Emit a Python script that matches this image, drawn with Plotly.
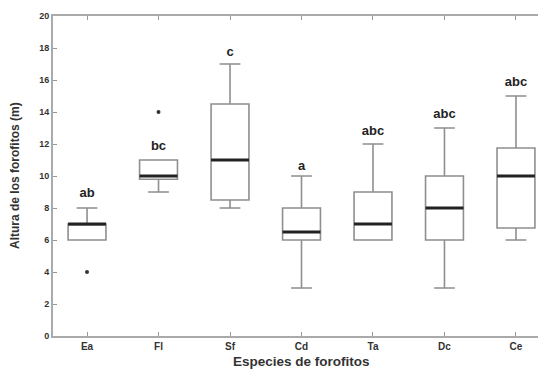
import plotly.graph_objects as go

categories = ["Ea", "Fl", "Sf", "Cd", "Ta", "Dc", "Ce"]
lower_whisker = [6, 9, 8, 3, 6, 3, 6]
q1_values = [6, 9.8, 8.5, 6, 6, 6, 6.75]
median_values = [7, 10, 11, 6.5, 7, 8, 10]
q3_values = [7, 11, 14.5, 8, 9, 10, 11.75]
upper_whisker = [8, 11, 17, 10, 12, 13, 15]
outlier_cat = [0, 1]
outlier_values = [4, 14]
letters = ["ab", "bc", "c", "a", "abc", "abc", "abc"]
letter_y = [8.9, 11.8, 17.7, 10.6, 12.75, 13.8, 15.8]
yticks = [0, 2, 4, 6, 8, 10, 12, 14, 16, 18, 20]

pos = list(range(len(categories)))
box_w = 0.53
FONT = "Liberation Sans"

fig = go.Figure()
fig.add_trace(go.Box(
    x=pos, q1=q1_values, median=median_values, q3=q3_values,
    lowerfence=lower_whisker, upperfence=upper_whisker,
    width=box_w, whiskerwidth=0.55,
    line=dict(color="#8f8f8f", width=1.6),
    fillcolor="white", boxpoints=False, showlegend=False,
    hoverinfo="skip",
))
fig.add_trace(go.Scatter(
    x=outlier_cat, y=outlier_values, mode="markers",
    marker=dict(color="#333", size=4, symbol="circle"),
    showlegend=False, hoverinfo="skip",
))
fig.add_trace(go.Scatter(
    x=pos, y=letter_y, mode="text", text=["<b>%s</b>" % t for t in letters],
    textfont=dict(family=FONT, size=13, color="#222"),
    textposition="middle center", showlegend=False, hoverinfo="skip",
))

shapes = []
for i, m in enumerate(median_values):
    shapes.append(dict(type="line", xref="x", yref="y",
                       x0=i - box_w / 2, x1=i + box_w / 2, y0=m, y1=m,
                       line=dict(color="#222", width=3)))

fig.update_layout(
    width=538, height=361,
    margin=dict(l=45, r=0, t=8, b=33),
    plot_bgcolor="white", paper_bgcolor="white",
    shapes=shapes,
    font=dict(family=FONT, color="#333"),
    xaxis=dict(
        range=[-0.476, 6.42], tickvals=pos, ticktext=["<b>%s</b>" % c for c in categories],
        ticks="inside", ticklen=4, tickcolor="#999", tickwidth=1,
        showline=True, linecolor="#aaa", linewidth=2, mirror="ticks",
        showgrid=False, zeroline=False, automargin=False,
        tickfont=dict(size=10, color="#333", family=FONT),
    ),
    yaxis=dict(
        range=[0, 20], tickvals=yticks, ticktext=["<b>%d</b>" % v for v in yticks],
        ticks="inside", ticklen=4, tickcolor="#999", tickwidth=1,
        showline=True, linecolor="#aaa", linewidth=2, mirror="ticks",
        showgrid=False, zeroline=False, automargin=False,
        tickfont=dict(size=9, color="#333", family=FONT),
    ),
    annotations=[
        dict(text="<b>Especies de forofitos</b>", xref="paper", yref="paper",
             x=0.505, y=-0.0, yshift=-25, xanchor="center", yanchor="middle",
             showarrow=False, font=dict(size=13.5, color="#333", family=FONT)),
        dict(text="<b>Altura de los forofitos (m)</b>", xref="paper", yref="paper",
             x=0, xshift=-38, y=0.5, xanchor="center", yanchor="middle", textangle=-90,
             showarrow=False, font=dict(size=12, color="#333", family=FONT)),
    ],
)

fig.write_html("out.html")
